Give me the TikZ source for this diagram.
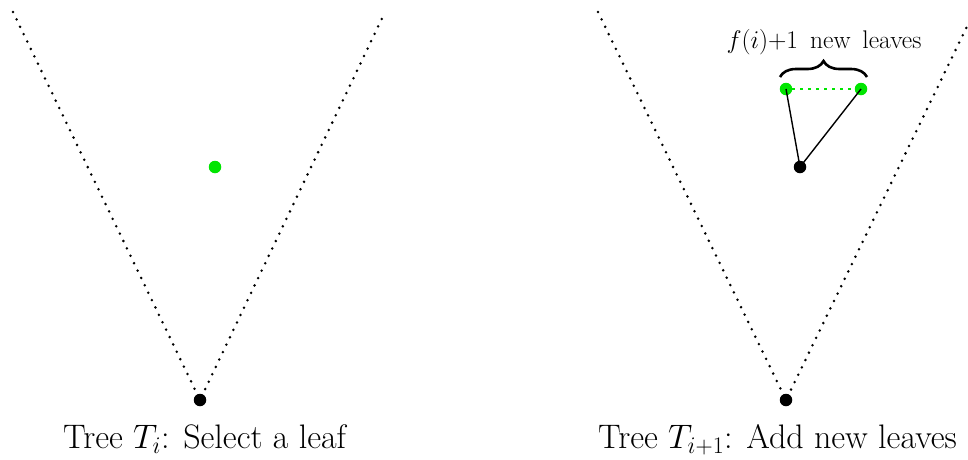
\RequirePackage{fix-cm}
\documentclass[tikz,border=0pt]{standalone}
\usetikzlibrary{decorations.pathreplacing}
\begin{document}
\begin{tikzpicture}[x=1pt,y=-1pt,
  vdots/.style={line width=2.8pt,line cap=round,dash pattern=on 0pt off 8.2pt},
  gdots/.style={green!90!black,line width=2.8pt,dash pattern=on 2.6pt off 5.4pt},
  blackdot/.style={circle,fill=black,inner sep=0pt,minimum size=12.5pt},
  greendot/.style={circle,fill=green!90!black,inner sep=0pt,minimum size=12.5pt},
  edge/.style={line width=1.4pt},
  caption/.style={font=\fontsize{34}{40}\selectfont,anchor=base west,inner sep=0pt},
  small/.style={font=\fontsize{25.5}{30}\selectfont,anchor=base,inner sep=0pt}]
\useasboundingbox (0,0) rectangle (968,459);
\clip (0,0) rectangle (968,459);
% left tree
\node[blackdot] (rootA) at (200,400) {};
\coordinate (aL) at (13,12);
\coordinate (aR) at (385,12);
\draw[vdots] (aL) -- (rootA.center) -- (aR);
\node[greendot] (leafA) at (215,167) {};
\node[caption] (capA) at (63,448) {Tree $T_i$: Select a leaf};
% right tree
\node[blackdot] (rootB) at (786,400) {};
\coordinate (bL) at (598,12);
\coordinate (bR) at (974,12);
\draw[vdots] (bL) -- (rootB.center) -- (bR);
\node[blackdot] (par) at (800,167) {};
\node[greendot] (g1) at (786,89) {};
\node[greendot] (g2) at (861,89) {};
\draw[edge] (par.center) -- (g1.center);
\draw[edge] (par.center) -- (g2.center);
\draw[gdots] (g1) -- (g2);
\draw[line width=2.6pt,decorate,decoration={brace,amplitude=16pt,aspect=0.5}] (780,77) -- (867,77);
\node[small] (lbl) at (824,48) {$f(i){+}1$\ \,new\ \,leaves};
\node[caption] (capB) at (598,448) {Tree $T_{i+1}$: Add new leaves};
\end{tikzpicture}
\end{document}
